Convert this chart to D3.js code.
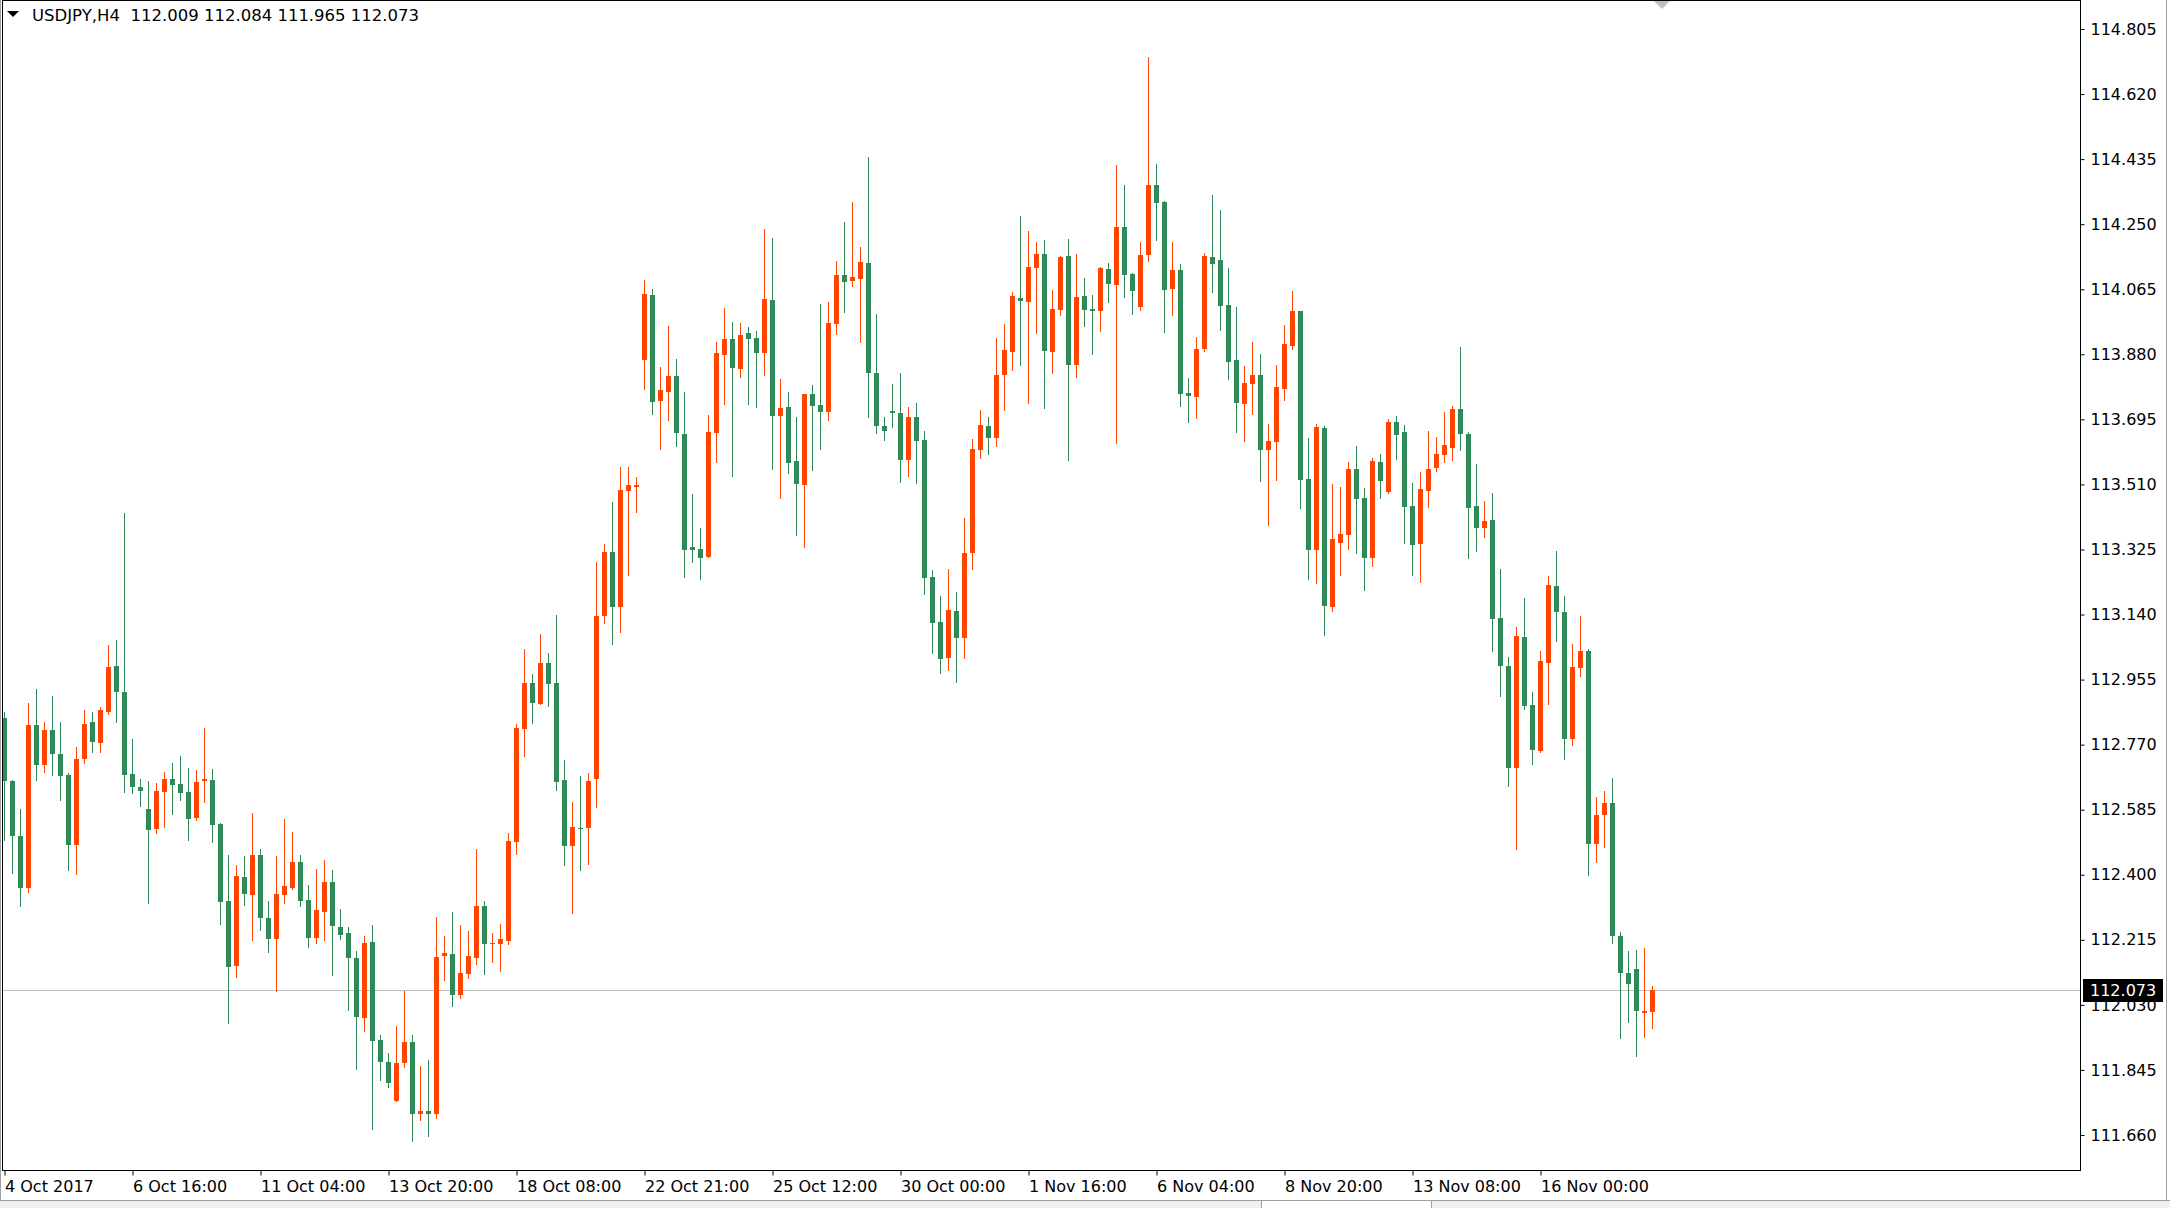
<!DOCTYPE html>
<html>
<head>
<meta charset="utf-8">
<title>USDJPY,H4</title>
<script src="https://cdn.jsdelivr.net/npm/d3@7/dist/d3.min.js"></script>
<style>
  html, body { margin: 0; padding: 0; background: #ffffff; }
  svg { display: block; }
  text { font-family: "DejaVu Sans", Verdana, sans-serif; font-size: 16px; fill: #000; }
</style>
</head>
<body>
<div id="chart"></div>
<script>

// Symbol and period shown in the top left corner
var symbol = "USDJPY";
var timeframe = "H4";

// OHLC of every H4 bar, 4 Oct 2017 00:00 onwards
var opens = [
  112.845,112.667,112.510,112.361,112.826,112.712,112.812,112.744,112.684,112.486,
  112.729,112.835,112.775,112.863,112.994,112.920,112.687,112.650,112.587,112.530,
  112.636,112.673,112.658,112.636,112.562,112.667,112.669,112.544,112.325,112.140,
  112.394,112.342,112.456,112.277,112.217,112.342,112.362,112.436,112.328,112.220,
  112.294,112.379,112.251,112.234,112.163,111.993,112.209,111.930,111.867,111.757,
  111.865,111.924,111.720,111.727,111.720,112.168,112.175,112.057,112.117,112.164,
  112.312,112.202,112.202,112.212,112.494,112.815,112.946,112.886,113.003,112.944,
  112.670,112.481,112.532,112.533,112.673,113.135,113.319,113.160,113.491,113.503,
  113.864,114.049,113.747,113.773,113.818,113.653,113.332,113.326,113.303,113.656,
  113.878,113.923,113.838,113.941,113.926,113.884,114.034,113.704,113.730,113.577,
  113.508,113.767,113.736,113.716,113.966,114.106,114.089,114.094,114.140,113.827,
  113.676,113.719,113.713,113.580,113.702,113.636,113.247,113.119,113.016,113.150,
  113.073,113.315,113.608,113.676,113.642,113.821,113.887,114.040,114.029,114.126,
  114.165,113.886,114.006,114.159,113.849,114.045,114.008,114.003,114.122,114.077,
  114.242,114.108,114.014,114.162,114.361,114.313,114.065,114.119,113.770,113.758,
  113.895,114.156,114.148,114.020,113.863,113.738,113.796,113.821,113.608,113.631,
  113.782,113.904,114.003,113.526,113.324,113.671,113.162,113.344,113.366,113.554,
  113.472,113.301,113.574,113.489,113.688,113.659,113.449,113.341,113.491,113.557,
  113.594,113.614,113.725,113.654,113.448,113.385,113.409,113.131,112.994,112.703,
  113.076,112.883,112.752,113.003,113.222,113.148,112.785,112.989,113.037,112.488,
  112.569,112.605,112.226,112.120,112.132,112.008,112.009
];
var highs = [
  112.863,112.670,112.587,112.889,112.928,112.835,112.909,112.835,112.690,112.764,
  112.869,112.863,112.877,113.054,113.068,113.429,112.786,112.673,112.667,112.661,
  112.692,112.718,112.738,112.704,112.698,112.818,112.701,112.547,112.456,112.428,
  112.453,112.576,112.473,112.325,112.453,112.559,112.522,112.456,112.371,112.416,
  112.442,112.414,112.303,112.251,112.183,112.226,112.257,111.944,111.893,111.970,
  112.069,111.944,111.857,111.872,112.279,112.225,112.295,112.257,112.241,112.472,
  112.326,112.234,112.259,112.518,112.829,113.041,112.971,113.086,113.031,113.138,
  112.727,112.608,112.682,112.689,113.289,113.340,113.461,113.560,113.559,113.531,
  114.091,114.066,113.844,113.960,113.867,113.773,113.483,113.386,113.707,113.915,
  114.012,113.972,113.969,113.958,113.946,114.236,114.211,113.810,113.773,113.702,
  113.767,113.793,114.023,114.029,114.146,114.256,114.313,114.185,114.440,113.995,
  113.702,113.796,113.827,113.730,113.742,113.662,113.267,113.193,113.270,113.204,
  113.415,113.639,113.722,113.702,113.927,113.966,114.057,114.273,114.231,114.200,
  114.205,114.062,114.159,114.207,114.165,114.097,114.048,114.128,114.139,114.418,
  114.361,114.111,114.199,114.725,114.421,114.316,114.199,114.136,113.812,113.929,
  114.168,114.333,114.290,114.125,114.014,113.846,113.915,113.881,113.682,113.850,
  113.964,114.060,114.003,113.642,113.682,113.676,113.511,113.503,113.574,113.619,
  113.500,113.585,113.597,113.696,113.705,113.679,113.514,113.546,113.662,113.645,
  113.716,113.733,113.901,113.659,113.569,113.463,113.485,113.270,113.019,113.105,
  113.188,112.920,113.037,113.250,113.321,113.193,113.056,113.136,113.041,112.621,
  112.638,112.675,112.237,112.184,112.187,112.193,112.084
];
var lows = [
  112.499,112.406,112.312,112.352,112.670,112.692,112.684,112.613,112.414,112.403,
  112.718,112.749,112.749,112.857,112.835,112.636,112.633,112.596,112.320,112.519,
  112.536,112.573,112.613,112.499,112.556,112.607,112.493,112.260,111.978,112.109,
  112.314,112.214,112.243,112.180,112.069,112.320,112.360,112.311,112.195,112.206,
  112.214,112.115,112.217,112.015,111.848,111.956,111.677,111.816,111.796,111.757,
  111.853,111.643,111.704,111.656,111.708,112.102,112.028,112.050,112.107,112.145,
  112.119,112.151,112.126,112.203,112.458,112.739,112.831,112.886,112.881,112.640,
  112.428,112.291,112.413,112.432,112.593,113.116,113.056,113.090,113.252,113.431,
  113.781,113.710,113.611,113.693,113.619,113.247,113.289,113.241,113.303,113.574,
  113.739,113.534,113.815,113.739,113.730,113.821,113.554,113.471,113.542,113.366,
  113.332,113.551,113.611,113.693,113.938,114.000,114.074,113.915,113.702,113.656,
  113.636,113.673,113.517,113.534,113.514,113.198,113.031,112.974,112.982,112.948,
  113.016,113.270,113.585,113.597,113.619,113.722,113.836,113.850,113.742,113.941,
  113.727,113.826,113.991,113.579,113.815,113.960,113.880,113.946,114.028,113.627,
  114.043,113.994,114.006,114.145,114.205,113.943,113.991,113.733,113.687,113.698,
  113.889,114.057,113.949,113.809,113.659,113.633,113.710,113.520,113.395,113.523,
  113.750,113.895,113.443,113.241,113.230,113.082,113.150,113.253,113.327,113.315,
  113.210,113.278,113.472,113.486,113.582,113.344,113.253,113.233,113.446,113.548,
  113.574,113.580,113.607,113.300,113.320,113.360,113.035,112.909,112.651,112.473,
  112.872,112.716,112.748,112.887,113.066,112.728,112.768,112.964,112.398,112.435,
  112.478,112.205,111.935,111.980,111.886,111.938,111.965
];
var closes = [
  112.667,112.509,112.361,112.826,112.712,112.812,112.744,112.681,112.486,112.729,
  112.829,112.778,112.869,112.991,112.920,112.684,112.650,112.638,112.527,112.638,
  112.673,112.655,112.633,112.559,112.664,112.673,112.541,112.323,112.138,112.396,
  112.345,112.456,112.277,112.217,112.345,112.368,112.436,112.325,112.220,112.300,
  112.379,112.254,112.229,112.163,111.995,112.206,111.927,111.867,111.808,111.865,
  111.924,111.720,111.727,111.720,112.166,112.178,112.057,112.121,112.170,112.312,
  112.202,112.205,112.218,112.496,112.817,112.946,112.888,113.003,112.942,112.664,
  112.482,112.537,112.531,112.668,113.136,113.319,113.160,113.494,113.508,113.508,
  114.051,113.744,113.778,113.818,113.656,113.323,113.323,113.301,113.659,113.884,
  113.923,113.841,113.935,113.923,113.884,114.037,113.704,113.727,113.571,113.511,
  113.767,113.733,113.716,113.969,114.106,114.086,114.100,114.143,113.827,113.676,
  113.662,113.713,113.580,113.702,113.634,113.244,113.116,113.014,113.153,113.073,
  113.315,113.611,113.679,113.642,113.821,113.892,114.046,114.032,114.128,114.165,
  113.889,114.008,114.156,113.849,114.043,114.006,114.003,114.125,114.080,114.242,
  114.105,114.060,114.162,114.361,114.310,114.062,114.119,113.767,113.761,113.895,
  114.159,114.136,114.017,113.858,113.741,113.798,113.821,113.608,113.634,113.787,
  113.910,114.003,113.523,113.324,113.673,113.164,113.355,113.369,113.554,113.469,
  113.301,113.577,113.520,113.688,113.651,113.446,113.338,113.497,113.554,113.597,
  113.622,113.725,113.652,113.444,113.385,113.406,113.127,112.993,112.703,113.079,
  112.880,112.756,113.009,113.225,113.146,112.785,112.992,113.037,112.488,112.571,
  112.605,112.225,112.122,112.089,112.014,112.013,112.073
];

// Time labels, one every 16 bars
var timeLabels = ["4 Oct 2017", "6 Oct 16:00", "11 Oct 04:00", "13 Oct 20:00", "18 Oct 08:00",
  "22 Oct 21:00", "25 Oct 12:00", "30 Oct 00:00", "1 Nov 16:00", "6 Nov 04:00",
  "8 Nov 20:00", "13 Nov 08:00", "16 Nov 00:00"];
var barsPerLabel = 16;

// Price scale labels
var priceTicks = [111.660, 111.845, 112.030, 112.215, 112.400, 112.585, 112.770, 112.955, 113.140,
  113.325, 113.510, 113.695, 113.880, 114.065, 114.250, 114.435, 114.620, 114.805];


class CandleChart{

	constructor(_parentElement){
		this.parentElement = _parentElement;
		this.initializeChart();
	}

	initializeChart(){
		var vis = this;

		vis.width = 2170;
		vis.height = 1208;
		vis.plot = {left: 2, right: 2080, top: 0, bottom: 1170};
		vis.barStep = 8;
		vis.bodyWidth = 5;
		vis.upColor = "#FF4500";
		vis.downColor = "#2E8B57";

		vis.svg = d3.select(vis.parentElement).append("svg")
			.attr("width", vis.width)
			.attr("height", vis.height);

		vis.bars = opens.map((o, i) => ({i: i, o: o, h: highs[i], l: lows[i], c: closes[i]}));

		// scales
		vis.xscale = d3.scaleLinear()
			.domain([0, vis.bars.length - 1])
			.range([4, 4 + vis.barStep * (vis.bars.length - 1)]);

		vis.yscale = d3.scaleLinear()
			.domain([priceTicks[0], priceTicks[priceTicks.length - 1]])
			.range([1135, 29]);

		vis.drawFrame();
		vis.drawCandles();
		vis.drawAxes();
		vis.drawHeader();
	}

	drawFrame(){
		var vis = this;

		// window bits around the chart
		vis.svg.append("line")
			.attr("x1", 0.5).attr("x2", 0.5).attr("y1", 0).attr("y2", 1200)
			.attr("stroke", "#a0a0a0");
		vis.svg.append("line")
			.attr("x1", 2166.5).attr("x2", 2166.5).attr("y1", 0).attr("y2", 1200)
			.attr("stroke", "#a0a0a0");
		vis.svg.append("rect")
			.attr("x", 0).attr("y", 1200).attr("width", vis.width).attr("height", 8)
			.attr("fill", "#f0f0f0");
		vis.svg.append("line")
			.attr("x1", 0).attr("x2", vis.width).attr("y1", 1200.5).attr("y2", 1200.5)
			.attr("stroke", "#a0a0a0");
		vis.svg.append("rect")
			.attr("x", 1261.5).attr("y", 1200.5).attr("width", 170).attr("height", 9)
			.attr("fill", "#ffffff").attr("stroke", "#a0a0a0");

		// chart border
		vis.svg.append("rect")
			.attr("x", vis.plot.left + 0.5)
			.attr("y", vis.plot.top + 0.5)
			.attr("width", vis.plot.right - vis.plot.left)
			.attr("height", vis.plot.bottom - vis.plot.top)
			.attr("fill", "none")
			.attr("stroke", "#000");

		// current price line
		var last = vis.bars[vis.bars.length - 1];
		vis.lastY = Math.round(vis.yscale(last.c));
		vis.svg.append("line")
			.attr("x1", vis.plot.left + 1).attr("x2", vis.plot.right)
			.attr("y1", vis.lastY + 0.5).attr("y2", vis.lastY + 0.5)
			.attr("stroke", "#c0c0c0");

		// chart shift marker
		var sx = Math.round(vis.xscale(vis.bars.length - 1)) + 10;
		vis.svg.append("path")
			.attr("d", "M" + (sx - 8) + ",1 L" + (sx + 8) + ",1 L" + sx + ",9 Z")
			.attr("fill", "#c0c0c0");
	}

	drawCandles(){
		var vis = this;

		vis.svg.append("clipPath").attr("id", "plotclip")
			.append("rect")
			.attr("x", vis.plot.left + 1).attr("y", vis.plot.top + 1)
			.attr("width", vis.plot.right - vis.plot.left - 1)
			.attr("height", vis.plot.bottom - vis.plot.top - 1);

		var g = vis.svg.append("g").attr("clip-path", "url(#plotclip)");

		var candle = g.selectAll("g.candle").data(vis.bars).enter()
			.append("g")
			.attr("class", "candle");

		var col = d => d.c >= d.o ? vis.upColor : vis.downColor;

		candle.append("line")
			.attr("x1", d => Math.round(vis.xscale(d.i)) + 0.5)
			.attr("x2", d => Math.round(vis.xscale(d.i)) + 0.5)
			.attr("y1", d => Math.round(vis.yscale(d.h)))
			.attr("y2", d => Math.round(vis.yscale(d.l)) + 1)
			.attr("stroke", col);

		candle.append("rect")
			.attr("x", d => Math.round(vis.xscale(d.i)) - 2)
			.attr("y", d => Math.round(vis.yscale(Math.max(d.o, d.c))))
			.attr("width", vis.bodyWidth)
			.attr("height", d => Math.max(1, Math.round(vis.yscale(Math.min(d.o, d.c))) - Math.round(vis.yscale(Math.max(d.o, d.c)))))
			.attr("fill", col);
	}

	drawAxes(){
		var vis = this;

		vis.yaxis = d3.axisRight(vis.yscale)
			.tickValues(priceTicks)
			.tickSize(4)
			.tickSizeOuter(0)
			.tickFormat(d3.format(".3f"));

		var ya = vis.svg.append("g")
			.attr("class", "y-axis")
			.attr("transform", "translate(" + (vis.plot.right + 0.5) + ",0)")
			.call(vis.yaxis);
		ya.select(".domain").remove();
		ya.selectAll(".tick line").attr("stroke", "#000");
		ya.selectAll(".tick text")
			.attr("x", 10)
			.style("font-family", "'DejaVu Sans', Verdana, sans-serif")
			.style("font-size", "16px")
			.attr("fill", "#000");

		var tickIdx = timeLabels.map((t, k) => k * barsPerLabel);
		vis.xaxis = d3.axisBottom(vis.xscale)
			.tickValues(tickIdx)
			.tickSize(5)
			.tickSizeOuter(0)
			.tickFormat(i => timeLabels[i / barsPerLabel]);

		var xa = vis.svg.append("g")
			.attr("class", "x-axis")
			.attr("transform", "translate(0.5," + (vis.plot.bottom + 0.5) + ")")
			.call(vis.xaxis);
		xa.select(".domain").remove();
		xa.selectAll(".tick line").attr("stroke", "#000");
		xa.selectAll(".tick text")
			.attr("text-anchor", "start")
			.attr("x", 0)
			.attr("y", 10)
			.style("font-family", "'DejaVu Sans', Verdana, sans-serif")
			.style("font-size", "16px")
			.attr("fill", "#000");

		// current price label, drawn over the price scale
		var last = vis.bars[vis.bars.length - 1];
		vis.svg.append("rect")
			.attr("x", vis.plot.right + 3)
			.attr("y", vis.lastY - 11)
			.attr("width", 80)
			.attr("height", 23)
			.attr("fill", "#000");
		vis.svg.append("text")
			.attr("x", vis.plot.right + 10)
			.attr("y", vis.lastY + 6)
			.style("fill", "#fff")
			.text(d3.format(".3f")(last.c));
	}

	drawHeader(){
		var vis = this;
		var last = vis.bars[vis.bars.length - 1];
		var f = d3.format(".3f");

		vis.svg.append("path")
			.attr("d", "M7,11 L19,11 L13,17 Z")
			.attr("fill", "#000");

		vis.svg.append("text")
			.attr("x", 32)
			.attr("y", 21)
			.style("white-space", "pre")
			.style("font-size", "16.5px")
			.text(symbol + "," + timeframe + "  " + [last.o, last.h, last.l, last.c].map(f).join(" "));
	}
}

var chart = new CandleChart("#chart");

</script>
</body>
</html>
